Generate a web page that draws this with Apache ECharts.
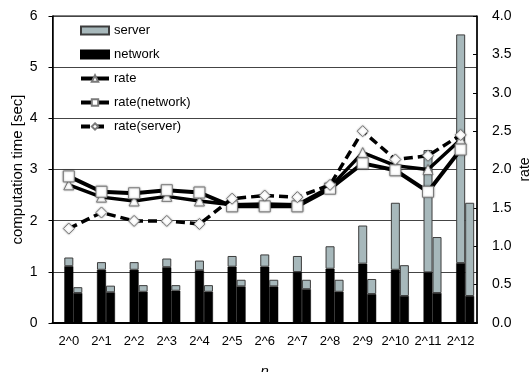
<!DOCTYPE html>
<html>
<head>
<meta charset="utf-8">
<script src="https://cdn.jsdelivr.net/npm/echarts@6/dist/echarts.min.js"></script>
<style>
  html, body { margin: 0; padding: 0; background: #fff; }
  #chart { width: 532px; height: 372px; }
</style>
</head>
<body>
<div id="chart"></div>
<script>
// Categories: problem size n
const categories = ['2^0','2^1','2^2','2^3','2^4','2^5','2^6','2^7','2^8','2^9','2^10','2^11','2^12'];

// Left bar of each pair: network time and server time [sec]
const leftNetwork = [1.11, 1.04, 1.04, 1.09, 1.03, 1.10, 1.10, 0.995, 1.06, 1.16, 1.04, 0.99, 1.17];
const leftServer  = [0.17, 0.15, 0.15, 0.17, 0.19, 0.21, 0.24, 0.315, 0.44, 0.745, 1.31, 2.39, 4.47];

// Right bar of each pair: network time and server time [sec]
const rightNetwork = [0.585, 0.60, 0.61, 0.63, 0.61, 0.715, 0.715, 0.66, 0.61, 0.565, 0.527, 0.585, 0.527];
const rightServer  = [0.115, 0.13, 0.13, 0.11, 0.13, 0.13, 0.13, 0.185, 0.235, 0.295, 0.603, 1.095, 1.823];

// Ratios (right axis)
const rate        = [1.80, 1.64, 1.59, 1.65, 1.59, 1.54, 1.55, 1.54, 1.77, 2.22, 2.05, 2.00, 2.39];
const rateNetwork = [1.91, 1.71, 1.69, 1.73, 1.70, 1.52, 1.52, 1.52, 1.75, 2.08, 1.99, 1.71, 2.26];
const rateServer  = [1.23, 1.44, 1.33, 1.33, 1.29, 1.62, 1.66, 1.64, 1.80, 2.50, 2.13, 2.18, 2.45];

const FONT = '"Liberation Sans", Arial, sans-serif';
const SERVER_GRAY = '#a7b8bb';

const markerStyle = {
  color: '#ffffff',
  borderColor: '#7a7a7a',
  borderWidth: 1,
  shadowBlur: 2,
  shadowColor: 'rgba(0,0,0,0.35)'
};

const chart = echarts.init(document.getElementById('chart'), null, { renderer: 'canvas' });

chart.setOption({
  animation: false,
  backgroundColor: '#ffffff',
  textStyle: { fontFamily: FONT, color: '#000' },
  grid: {
    left: 52.5, right: 55, top: 16, bottom: 49,
    outerBoundsMode: 'none',
    containLabel: false,
    show: true, borderColor: '#000', borderWidth: 1, backgroundColor: 'transparent'
  },
  legend: {
    orient: 'vertical',
    left: 74,
    top: 19,
    itemWidth: 28,
    itemHeight: 8,
    itemGap: 11,
    selectedMode: false,
    lineStyle: { width: 4 },
    textStyle: { fontFamily: FONT, fontSize: 13, color: '#000' },
    data: [
      { name: 'server', icon: 'rect' },
      { name: 'network', icon: 'rect' },
      'rate',
      'rate(network)',
      'rate(server)'
    ]
  },
  xAxis: {
    type: 'category',
    data: categories,
    name: 'n',
    nameLocation: 'middle',
    nameGap: 41,
    nameMoveOverlap: false,
    nameTextStyle: { fontFamily: FONT, fontSize: 15, fontStyle: 'italic', color: '#000' },
    axisLine: { lineStyle: { color: '#000', width: 2 } },
    axisTick: { show: false },
    axisLabel: { fontFamily: FONT, fontSize: 13, color: '#000', margin: 12, interval: 0 },
    splitLine: { show: false }
  },
  yAxis: [
    {
      type: 'value',
      min: 0, max: 6, interval: 1,
      name: 'computation time [sec]',
      nameLocation: 'middle',
      nameGap: 27,
      nameMoveOverlap: false,
      nameRotate: 90,
      nameTextStyle: { fontFamily: FONT, fontSize: 15, color: '#000' },
      axisLine: { show: true, lineStyle: { color: '#000', width: 1.5 } },
      axisTick: { show: true, inside: false, length: 4, lineStyle: { color: '#000' } },
      axisLabel: { fontFamily: FONT, fontSize: 14, color: '#000', margin: 15 },
      splitLine: { show: true, lineStyle: { color: '#444', width: 1 } }
    },
    {
      type: 'value',
      min: 0, max: 4, interval: 0.5,
      name: 'rate',
      nameLocation: 'middle',
      nameGap: 41,
      nameMoveOverlap: false,
      nameRotate: 90,
      nameTextStyle: { fontFamily: FONT, fontSize: 14, color: '#000' },
      axisLine: { show: true, lineStyle: { color: '#000', width: 1.5 } },
      axisTick: { show: true, inside: true, length: 4, lineStyle: { color: '#000' } },
      axisLabel: {
        fontFamily: FONT, fontSize: 14, color: '#000', margin: 15,
        formatter: v => v.toFixed(1)
      },
      splitLine: { show: false }
    }
  ],
  series: [
    // empty slot so each pair sits right of the category centre
    { name: '_slot', type: 'bar', stack: 'slot', barWidth: 9, barGap: 0,
      data: categories.map(() => null), itemStyle: { borderWidth: 0 } },

    { name: 'network', type: 'bar', stack: 'left', barWidth: 9, barGap: 0,
      data: leftNetwork,
      itemStyle: { color: '#000', borderColor: '#000', borderWidth: 0.5 } },
    { name: 'server', type: 'bar', stack: 'left', barWidth: 9, barGap: 0,
      data: leftServer,
      itemStyle: { color: SERVER_GRAY, borderColor: '#3c3c3c', borderWidth: 1 } },

    { name: 'network', type: 'bar', stack: 'right', barWidth: 9, barGap: 0,
      data: rightNetwork,
      itemStyle: { color: '#000', borderColor: '#000', borderWidth: 0.5 } },
    { name: 'server', type: 'bar', stack: 'right', barWidth: 9, barGap: 0,
      data: rightServer,
      itemStyle: { color: SERVER_GRAY, borderColor: '#3c3c3c', borderWidth: 1 } },

    { name: 'rate', type: 'line', yAxisIndex: 1, data: rate, z: 5,
      symbol: 'triangle', symbolSize: 10, showAllSymbol: true,
      lineStyle: { color: '#000', width: 3.5 },
      itemStyle: markerStyle },
    { name: 'rate(network)', type: 'line', yAxisIndex: 1, data: rateNetwork, z: 6,
      symbol: 'rect', symbolSize: 11, showAllSymbol: true,
      lineStyle: { color: '#000', width: 4 },
      itemStyle: markerStyle },
    { name: 'rate(server)', type: 'line', yAxisIndex: 1, data: rateServer, z: 7,
      symbol: 'diamond', symbolSize: 11, showAllSymbol: true,
      lineStyle: { color: '#000', width: 3.5, type: [9, 5] },
      itemStyle: markerStyle }
  ]
});
</script>
</body>
</html>
